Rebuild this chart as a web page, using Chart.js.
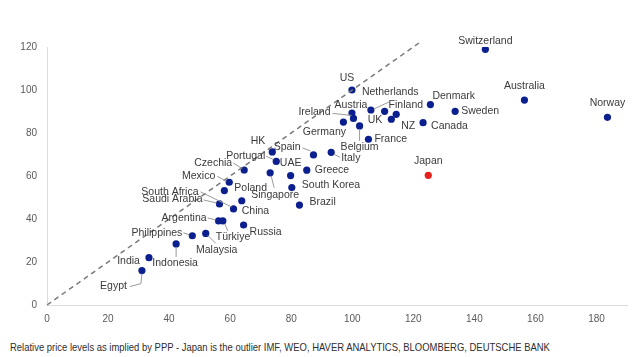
<!DOCTYPE html>
<html>
<head>
<meta charset="utf-8">
<script src="https://cdn.jsdelivr.net/npm/chart.js@4/dist/chart.umd.min.js"></script>
<style>
    body { margin: 0; background: #fff; }
    #wrap { position: relative; width: 642px; height: 357px; }
    #caption {
        position: absolute; left: 10px; top: 341px;
        font-family: "Liberation Sans", Arial, sans-serif;
        font-size: 11px; color: #2e2e2e; white-space: nowrap;
        transform: scaleX(0.86); transform-origin: left center;
    }
</style>
</head>
<body>
<div id="wrap">
    <canvas id="chart" width="642" height="330"></canvas>
    <div id="caption">Relative price levels as implied by PPP - Japan is the outlier IMF, WEO, HAVER ANALYTICS, BLOOMBERG, DEUTSCHE BANK</div>
</div>
<script>
// данные
const countries = ["Switzerland", "Australia", "Norway", "Denmark", "Sweden", "Canada", "Japan", "NZ", "UK", "Finland",
    "Netherlands", "US", "Austria", "Ireland", "Germany", "Belgium", "France", "Italy", "Spain", "HK",
    "Portugal", "UAE", "Greece", "South Korea", "Brazil", "Singapore", "Czechia", "Mexico", "Poland", "China",
    "South Africa", "Saudi Arabia", "Argentina", "Türkiye", "Russia", "Malaysia", "Philippines", "Indonesia", "India", "Egypt"]
const xValues = [143.6, 156.4, 183.6, 125.6, 133.7, 123.2, 124.9, 114.4, 112.8, 110.6,
    106.1, 99.9, 99.9, 100.4, 97.1, 102.4, 105.3, 93.1, 87.3, 73.8,
    75.1, 79.8, 85.1, 80.2, 82.7, 73.1, 64.6, 59.7, 58.1, 63.8,
    61.1, 56.5, 56.2, 57.6, 64.4, 52.0, 47.6, 42.3, 33.4, 31.1]
const yValues = [118.9, 95.3, 87.3, 93.2, 90.1, 84.8, 60.3, 88.7, 86.4, 90.1,
    90.7, 100.0, 89.3, 86.8, 85.1, 83.3, 77.1, 71.0, 69.8, 71.2,
    66.8, 60.2, 62.7, 54.6, 46.5, 61.5, 62.8, 57.1, 53.2, 48.5,
    44.7, 47.0, 39.1, 39.1, 37.2, 33.3, 32.2, 28.4, 22.0, 16.0]
const outlier = "Japan"
const parityLine = [0, 122]
const xTicks = [0, 20, 40, 60, 80, 100, 120, 140, 160, 180]
const yTicks = [0, 20, 40, 60, 80, 100, 120]

// где рисовать подписи: [align, dx, dy, leader points]
const labelLayout = {
    "Switzerland": ["center", 0, -8], "Australia": ["center", 0, -14], "Norway": ["center", 0, -14],
    "Denmark": ["left", 2, -9], "Sweden": ["left", 6, 0], "Canada": ["left", 8, 3],
    "Japan": ["center", 0, -14], "NZ": ["left", 5, 12], "UK": ["right", -9, 1],
    "Finland": ["left", 4, -6], "Netherlands": ["left", -9, -18, [[3, -1], [18, -8]]],
    "US": ["center", -5, -12], "Austria": ["center", -1, -8],
    "Ireland": ["right", -23, -6, [[-21, -5], [-2, -3]]], "Germany": ["center", -19, 10],
    "Belgium": ["center", 0, 21, [[0, 3], [0, 15]]], "France": ["left", 6, 0],
    "Italy": ["left", 10, 6, [[3, 2], [9, 5]]], "Spain": ["right", -13, -8, [[-11, -7], [-3, -4]]],
    "HK": ["right", -7, -11], "Portugal": ["right", -11, -5, [[-10, -5], [-3, -2]]],
    "UAE": ["center", 0, -12], "Greece": ["left", 8, 0], "South Korea": ["left", 10, -3],
    "Brazil": ["left", 10, -3], "Singapore": ["center", 5, 22, [[1, 3], [4, 15]]],
    "Czechia": ["right", -12, -7, [[-11, -7], [-3, -2]]], "Mexico": ["right", -14, -6, [[-12, -6], [-3, -1]]],
    "Poland": ["left", 10, -3], "China": ["left", 0, 10],
    "South Africa": ["right", -35, -17, [[-33, -17], [-2, -2]]],
    "Saudi Arabia": ["right", -17, -5, [[-16, -4], [-3, -1]]],
    "Argentina": ["right", -12, -3, [[-11, -3], [-3, -1]]],
    "Türkiye": ["left", -7, 16, [[2, 3], [5, 10]]], "Russia": ["left", 6, 7],
    "Malaysia": ["center", 11, 17, [[2, 2], [10, 10]]],
    "Philippines": ["right", -10, -3, [[-9, -3], [-3, -1]]],
    "Indonesia": ["center", -1, 19, [[0, 3], [0, 13]]], "India": ["right", -9, 3],
    "Egypt": ["right", -15, 16, [[0, 3], [-1, 13], [-12, 16]]]
}

const pointLabels = {
    id: "pointLabels",
    afterDatasetsDraw(chart) {
        const ctx = chart.ctx
        const meta = chart.getDatasetMeta(1)
        ctx.save()
        ctx.font = '10.5px "Liberation Sans", Arial, sans-serif'
        ctx.fillStyle = "#3a3a3a"
        ctx.textBaseline = "middle"
        ctx.strokeStyle = "#9a9a9a"
        ctx.lineWidth = 1
        meta.data.forEach((pt, i) => {
            const lay = labelLayout[countries[i]]
            if (!lay) return
            const [align, dx, dy, leader] = lay
            if (leader) {
                ctx.beginPath()
                leader.forEach(([lx, ly], k) => {
                    if (k == 0) ctx.moveTo(pt.x + lx, pt.y + ly)
                    else ctx.lineTo(pt.x + lx, pt.y + ly)
                })
                ctx.stroke()
            }
            ctx.textAlign = align
            ctx.fillText(countries[i], pt.x + dx, pt.y + dy)
        })
        ctx.restore()
    }
}

const points = countries.map((c, i) => ({ x: xValues[i], y: yValues[i] }))
const colors = countries.map(c => c == outlier ? "#e8201c" : "#0b1f8e")

new Chart(document.getElementById("chart"), {
    type: "scatter",
    data: {
        datasets: [
            {
                type: "line",
                data: parityLine.map(v => ({ x: v, y: v })),
                borderColor: "#7a7a7a",
                borderWidth: 1.5,
                borderDash: [5, 4],
                pointRadius: 0,
                clip: false
            },
            {
                data: points,
                backgroundColor: colors,
                borderWidth: 0,
                pointRadius: 3.6
            }
        ]
    },
    options: {
        responsive: false,
        animation: false,
        layout: { padding: { top: 47, right: 15, left: 0, bottom: 0 } },
        plugins: { legend: { display: false }, tooltip: { enabled: false } },
        scales: {
            x: {
                type: "linear", min: 0, max: 190,
                afterBuildTicks: s => { s.ticks = xTicks.map(v => ({ value: v })) },
                afterFit: s => { s.height = 25 },
                grid: { display: false, drawTicks: false },
                border: { display: true, color: "#dcdcdc", width: 1 },
                ticks: { color: "#5a5a5a", padding: 8, font: { size: 10, family: '"Liberation Sans", Arial, sans-serif' } }
            },
            y: {
                min: 0, max: 120,
                afterBuildTicks: s => { s.ticks = yTicks.map(v => ({ value: v })) },
                afterFit: s => { s.width = 47 },
                grid: { display: false, drawTicks: false },
                border: { display: true, color: "#dcdcdc", width: 1 },
                ticks: { color: "#5a5a5a", padding: 10, font: { size: 10, family: '"Liberation Sans", Arial, sans-serif' } }
            }
        }
    },
    plugins: [pointLabels]
})
</script>
</body>
</html>
